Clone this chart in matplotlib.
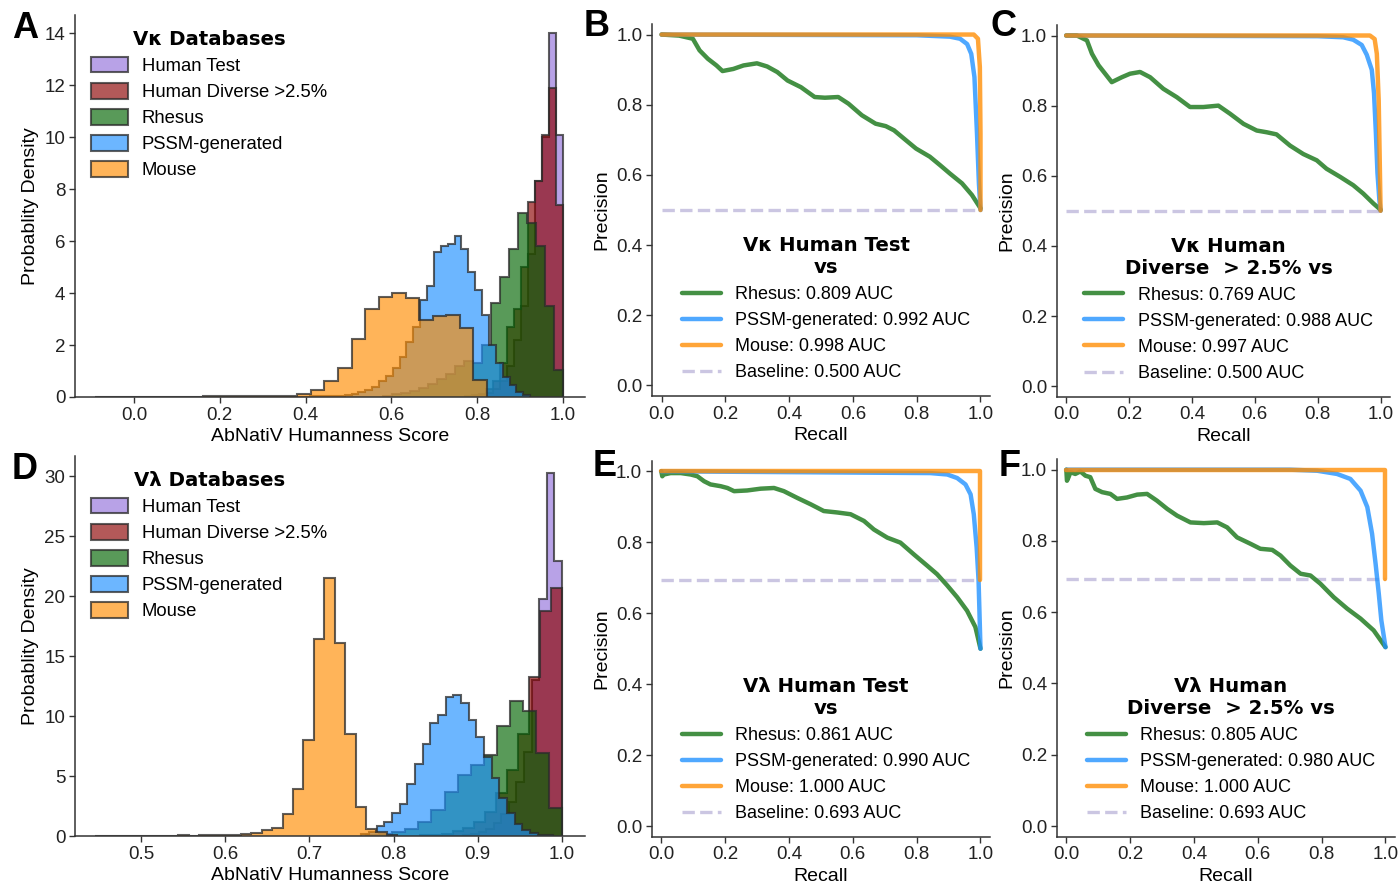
import numpy as np
import matplotlib
matplotlib.use("Agg")
import matplotlib.pyplot as plt
from matplotlib.patches import Patch
from matplotlib.font_manager import FontProperties

plt.rcParams['font.family'] = ['Liberation Sans', 'DejaVu Sans']
plt.rcParams['font.size'] = 13
plt.rcParams['axes.edgecolor'] = '#333333'
plt.rcParams['axes.linewidth'] = 1.1
plt.rcParams['xtick.color'] = '#333333'
plt.rcParams['ytick.color'] = '#333333'
plt.rcParams['xtick.labelcolor'] = '#222222'
plt.rcParams['ytick.labelcolor'] = '#222222'

# ---- histogram data (density per bin) ----
db_names = ['Human Test', 'Human Diverse >2.5%', 'Rhesus', 'PSSM-generated', 'Mouse']

# V-kappa: (range low, range high, heights)
k_test = (0.8200, 1.0, [0.15, 0.3, 0.6, 1.2, 2.2, 3.5, 5.5, 8.3, 10.0, 14.0, 10.1])
k_diverse = (0.7710, 1.0, [0.03, 0.06, 0.1, 0.3, 0.6, 1.3, 2.7, 3.4, 5.0, 7.5, 8.3, 10.1, 11.9, 7.4])
k_rhesus = (0.5800, 1.0, [0.05, 0.1, 0.15, 0.25, 0.35, 0.5, 0.7, 0.9, 1.2, 1.4,
                          1.3, 2.0, 3.6, 4.6, 5.7, 7.1, 6.7, 5.8, 3.5, 1.04])
k_pssm = (0.379, 0.923, [0.01, 0.01, 0.02, 0.02, 0.03, 0.04, 0.05, 0.07, 0.1, 0.18,
                         0.28, 0.4, 0.6, 0.8, 1.1, 1.55, 2.1, 2.7,
                         3.73, 4.27, 5.58, 5.8, 5.9, 6.2, 5.7, 4.8, 4.1, 3.15,
                         2.0, 1.3, 0.77, 0.45, 0.2, 0.06])
k_mouse = (-0.0915, 0.822, [0.01, 0.0, 0.01, 0.01, 0.0, 0.01, 0.01, 0.01, 0.02, 0.02,
                            0.05, 0.02, 0.02, 0.03, 0.05, 0.1, 0.27, 0.6, 1.1, 2.25,
                            3.4, 3.85, 4.0, 3.8, 2.95, 3.1, 3.15, 2.65, 0.65])

# V-lambda
l_test = (0.883, 1.0, [0.1, 0.2, 0.35, 0.6, 1.1, 1.8, 2.8, 4.5, 7.0, 13.0, 19.8, 30.3, 22.95])
l_diverse = (0.831, 1.0, [0.05, 0.1, 0.2, 0.4, 0.7, 1.2, 2.0, 3.6, 5.5, 8.5, 13.25, 18.8, 20.7])
l_rhesus = (0.7675, 1.0, [0.07, 0.15, 0.3, 0.6, 1.2, 2.2, 3.7, 5.1, 5.9,
                          6.8, 9.2, 11.25, 10.4, 6.9, 2.3])
l_pssm = (0.7617, 0.9892, [0.15, 0.35, 0.8, 1.2, 1.9, 2.7, 4.3, 6.0, 7.7, 9.4, 10.1, 11.6,
                           11.8, 11.1, 9.7, 8.3, 6.6, 4.8, 3.2, 1.9, 1.0, 0.5, 0.25, 0.12, 0.05])
l_mouse = (0.4448, 0.8044, [0.02, 0.02, 0.02, 0.02, 0.03, 0.02, 0.03, 0.04, 0.05, 0.04,
                            0.06, 0.05, 0.08, 0.1, 0.15, 0.25, 0.5, 0.7, 1.8, 3.9,
                            8.0, 16.4, 21.5, 16.1, 8.5, 2.4, 0.6, 0.35, 0.1])

hist_colors = ['#9370DB', '#8B0000', '#006400', '#1E90FF', '#FF8C00']

# ---- precision-recall curves (recall, precision) ----
B_rhesus_r = [0, 0.055, 0.098, 0.119, 0.145, 0.172, 0.191, 0.225, 0.257, 0.299, 0.331, 0.363, 0.395,
              0.437, 0.480, 0.512, 0.554, 0.586, 0.628, 0.671, 0.703, 0.729, 0.766, 0.798, 0.841,
              0.873, 0.904, 0.942, 0.973, 1.0]
B_rhesus_p = [1.0, 0.997, 0.988, 0.955, 0.931, 0.912, 0.896, 0.902, 0.912, 0.918, 0.909, 0.893, 0.869,
              0.850, 0.822, 0.820, 0.822, 0.803, 0.770, 0.746, 0.739, 0.727, 0.699, 0.675, 0.652,
              0.628, 0.604, 0.576, 0.543, 0.505]
B_pssm_r = [0, 0.80, 0.904, 0.936, 0.958, 0.971, 0.981, 0.989, 0.995, 1.0]
B_pssm_p = [1.0, 0.998, 0.994, 0.988, 0.973, 0.945, 0.879, 0.718, 0.576, 0.5]
B_mouse_r = [0, 0.979, 0.992, 0.998, 1.0, 1.0]
B_mouse_p = [1.0, 1.0, 0.988, 0.907, 0.718, 0.5]

C_rhesus_r = [0, 0.034, 0.066, 0.082, 0.103, 0.124, 0.145, 0.177, 0.203, 0.235, 0.267, 0.309, 0.352,
              0.394, 0.436, 0.484, 0.521, 0.564, 0.606, 0.638, 0.669, 0.712, 0.754, 0.797, 0.828,
              0.871, 0.913, 0.945, 0.977, 1.0]
C_rhesus_p = [1.0, 1.0, 0.986, 0.948, 0.915, 0.891, 0.867, 0.881, 0.891, 0.896, 0.881, 0.848, 0.824,
              0.796, 0.796, 0.800, 0.777, 0.748, 0.729, 0.724, 0.718, 0.686, 0.662, 0.644, 0.620,
              0.597, 0.573, 0.549, 0.521, 0.503]
C_pssm_r = [0, 0.80, 0.881, 0.913, 0.940, 0.956, 0.972, 0.979, 0.985, 0.990, 0.996, 1.0]
C_pssm_p = [1.0, 0.998, 0.995, 0.988, 0.973, 0.945, 0.902, 0.836, 0.722, 0.608, 0.532, 0.5]
C_mouse_r = [0, 0.966, 0.981, 0.988, 0.994, 1.0]
C_mouse_p = [1.0, 1.0, 0.990, 0.948, 0.815, 0.5]

E_rhesus_r = [0, 0.003, 0.008, 0.029, 0.061, 0.092, 0.113, 0.134, 0.154, 0.186, 0.207, 0.228, 0.269,
              0.311, 0.353, 0.384, 0.426, 0.468, 0.509, 0.551, 0.593, 0.635, 0.666, 0.708, 0.749,
              0.791, 0.833, 0.864, 0.896, 0.927, 0.958, 0.984, 1.0]
E_rhesus_p = [1.0, 0.986, 0.991, 0.995, 0.995, 0.991, 0.986, 0.972, 0.963, 0.958, 0.953, 0.944, 0.946,
              0.951, 0.953, 0.944, 0.925, 0.907, 0.888, 0.884, 0.879, 0.860, 0.836, 0.813, 0.799,
              0.766, 0.734, 0.710, 0.678, 0.645, 0.607, 0.561, 0.5]
E_pssm_r = [0, 0.843, 0.896, 0.927, 0.953, 0.969, 0.979, 0.988, 0.994, 1.0]
E_pssm_p = [1.0, 0.995, 0.991, 0.981, 0.963, 0.935, 0.879, 0.785, 0.692, 0.5]
E_mouse_r = [0, 1.0, 1.0]
E_mouse_p = [1.0, 1.0, 0.693]

F_rhesus_r = [0, 0.002, 0.007, 0.013, 0.028, 0.044, 0.06, 0.075, 0.091, 0.112, 0.138, 0.159, 0.19,
              0.222, 0.253, 0.284, 0.316, 0.347, 0.389, 0.431, 0.473, 0.504, 0.535, 0.577, 0.608,
              0.645, 0.671, 0.702, 0.734, 0.765, 0.796, 0.838, 0.880, 0.922, 0.963, 1.0]
F_rhesus_p = [1.0, 0.969, 0.979, 0.993, 0.988, 0.995, 0.983, 0.979, 0.946, 0.937, 0.932, 0.918, 0.922,
              0.930, 0.932, 0.913, 0.890, 0.871, 0.852, 0.850, 0.852, 0.838, 0.810, 0.792, 0.778,
              0.775, 0.759, 0.731, 0.708, 0.703, 0.680, 0.642, 0.610, 0.582, 0.549, 0.502]
F_pssm_r = [0, 0.702, 0.786, 0.848, 0.890, 0.922, 0.943, 0.958, 0.969, 0.979, 0.987, 1.0]
F_pssm_p = [1.0, 1.0, 0.997, 0.988, 0.974, 0.941, 0.895, 0.820, 0.736, 0.652, 0.577, 0.502]
F_mouse_r = [0, 1.0, 1.0]
F_mouse_p = [1.0, 1.0, 0.693]

auc_B = [0.809, 0.992, 0.998, 0.500]
auc_C = [0.769, 0.988, 0.997, 0.500]
auc_E = [0.861, 0.990, 1.000, 0.693]
auc_F = [0.805, 0.980, 1.000, 0.693]
baseline_k = 0.500
baseline_l = 0.693

pr_colors = ['#3a8a3a', '#1E90FF', '#FF8C00']
base_color = '#cbc6e2'

fig = plt.figure(figsize=(13.98, 8.83), dpi=100)

bold_title = FontProperties(family='DejaVu Sans', weight='bold', size=14.2)


def style_axes(ax):
    for s in ['top', 'right']:
        ax.spines[s].set_visible(False)
    ax.tick_params(direction='out', length=4, width=1, labelsize=13.5, pad=3)


def draw_hist(ax, datasets, title, xticks, xlim, ylim, yticks):
    handles = []
    for (lo, hi, h), c in zip(datasets, hist_colors):
        edges = np.linspace(lo, hi, len(h) + 1)
        ax.stairs(h, edges, fill=True, color=c, alpha=0.65, lw=0)
        ax.stairs(h, edges, color='#2b2b2b', alpha=0.75, lw=1.5, baseline=0)
        handles.append(Patch(facecolor=matplotlib.colors.to_rgba(c, 0.65),
                             edgecolor=(0.17, 0.17, 0.17, 0.75), lw=1.5))
    ax.legend(handles, db_names, loc='upper left', frameon=False, title=title,
              title_fontproperties=bold_title, fontsize=13.3, handlelength=2.0,
              handleheight=0.95, labelspacing=0.42, handletextpad=0.72,
              borderaxespad=0.4, bbox_to_anchor=(0.003, 1.0))
    ax.set_xlim(*xlim)
    ax.set_ylim(*ylim)
    ax.set_xticks(xticks)
    ax.set_yticks(yticks)
    ax.set_xlabel('AbNatiV Humanness Score', fontsize=14, labelpad=3)
    ax.set_ylabel('Probablity Density', fontsize=14, labelpad=4)
    style_axes(ax)


def draw_pr(ax, curves, aucs, base, title):
    names = ['Rhesus', 'PSSM-generated', 'Mouse']
    lines = []
    for (r, p), c, name, a in zip(curves, pr_colors, names, aucs):
        ln, = ax.plot(r, p, color=c, lw=3.2, alpha=0.78 if c != pr_colors[0] else 0.95,
                      solid_capstyle='round', label=f'{name}: {a:.3f} AUC')
        lines.append(ln)
    bl, = ax.plot([0, 1], [base, base], ls='--', color=base_color, lw=2.4, zorder=1,
                  label=f'Baseline: {aucs[3]:.3f} AUC')
    lines.append(bl)
    leg = ax.legend(handles=lines, loc='lower center', frameon=False, title=title,
                    title_fontproperties=bold_title, fontsize=13, handlelength=2.15,
                    labelspacing=0.5, handletextpad=0.8, borderaxespad=0.42,
                    bbox_to_anchor=(0.515, 0.0))
    leg.get_title().set_multialignment('center')
    ax.set_xlim(-0.03, 1.03)
    ax.set_ylim(-0.03, 1.03)
    ax.set_xticks([0, 0.2, 0.4, 0.6, 0.8, 1.0])
    ax.set_yticks([0, 0.2, 0.4, 0.6, 0.8, 1.0])
    ax.set_xlabel('Recall', fontsize=14, labelpad=3)
    ax.set_ylabel('Precision', fontsize=14, labelpad=4)
    style_axes(ax)


axA = fig.add_axes([0.0537, 0.5504, 0.3648, 0.4326])
draw_hist(axA, [k_test, k_diverse, k_rhesus, k_pssm, k_mouse], 'V\u03ba Databases',
          [0.0, 0.2, 0.4, 0.6, 0.8, 1.0], (-0.137, 1.051), (0, 14.7), [0, 2, 4, 6, 8, 10, 12, 14])

axD = fig.add_axes([0.0537, 0.0532, 0.3648, 0.4304])
draw_hist(axD, [l_test, l_diverse, l_rhesus, l_pssm, l_mouse], 'V\u03bb Databases',
          [0.5, 0.6, 0.7, 0.8, 0.9, 1.0], (0.4215, 1.0275), (0, 31.7), [0, 5, 10, 15, 20, 25, 30])

axB = fig.add_axes([0.4664, 0.5515, 0.2418, 0.4213])
draw_pr(axB, [(B_rhesus_r, B_rhesus_p), (B_pssm_r, B_pssm_p), (B_mouse_r, B_mouse_p)],
        auc_B, baseline_k, 'V\u03ba Human Test\nvs')

axC = fig.add_axes([0.7559, 0.5508, 0.2384, 0.4209])
draw_pr(axC, [(C_rhesus_r, C_rhesus_p), (C_pssm_r, C_pssm_p), (C_mouse_r, C_mouse_p)],
        auc_C, baseline_k, 'V\u03ba Human\nDiverse  > 2.5% vs')

axE = fig.add_axes([0.4662, 0.0524, 0.2420, 0.4259])
draw_pr(axE, [(E_rhesus_r, E_rhesus_p), (E_pssm_r, E_pssm_p), (E_mouse_r, E_mouse_p)],
        auc_E, baseline_l, 'V\u03bb Human Test\nvs')

axF = fig.add_axes([0.7559, 0.0524, 0.2420, 0.4278])
draw_pr(axF, [(F_rhesus_r, F_rhesus_p), (F_pssm_r, F_pssm_p), (F_mouse_r, F_mouse_p)],
        auc_F, baseline_l, 'V\u03bb Human\nDiverse  > 2.5% vs')

letters = [('A', 25, 28), ('B', 597, 27), ('C', 1003, 27), ('D', 25, 470), ('E', 605, 467), ('F', 1010, 467)]
for t, x, y in letters:
    fig.text(x / 1398, 1 - y / 883, t, fontsize=26, fontweight='bold', ha='center', va='center',
             family='Liberation Sans')

fig.savefig('out.png', dpi=100)
